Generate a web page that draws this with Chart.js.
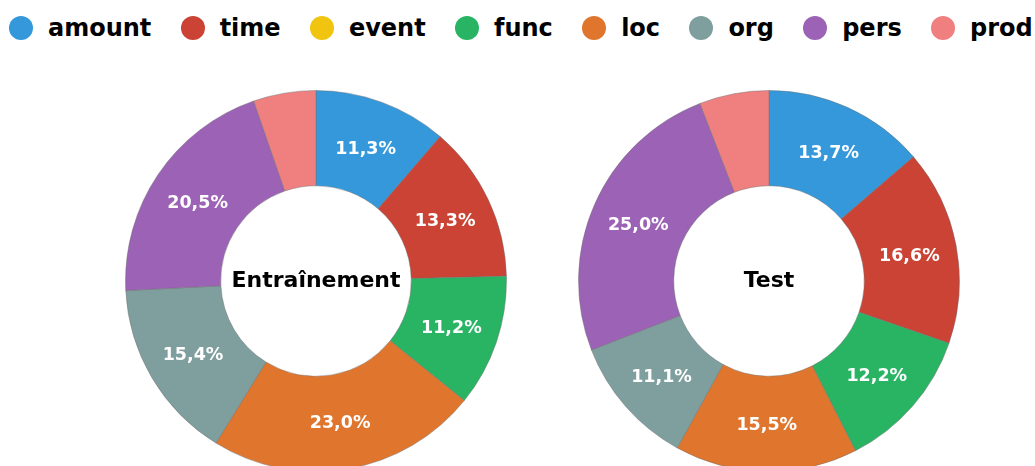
<!DOCTYPE html>
<html>
<head>
<meta charset="utf-8">
<script src="https://cdn.jsdelivr.net/npm/chart.js@4/dist/chart.umd.min.js"></script>
<style>
  html, body { margin: 0; padding: 0; background: #fff; }
  #wrap { position: relative; width: 1035px; height: 466px; overflow: hidden; }
  #legend { position: absolute; left: 9px; top: 16px; display: flex; white-space: nowrap;
            font-family: "DejaVu Sans", sans-serif; font-weight: bold; font-size: 24px; line-height: 24px; color: #000; }
  .item { display: flex; align-items: center; margin-right: 29.3px; }
  .dot { display: inline-block; width: 24px; height: 24px; border-radius: 50%; margin-right: 15px; }
  canvas { position: absolute; }
</style>
</head>
<body>
<div id="wrap">
  <div id="legend"></div>
  <canvas id="c1" width="382" height="382" style="left:125px; top:90px;"></canvas>
  <canvas id="c2" width="382" height="382" style="left:578px; top:90px;"></canvas>
</div>
<script>
const categories = ["amount", "time", "event", "func", "loc", "org", "pers", "prod"];
const colors = ["#3498db", "#cb4335", "#f1c40f", "#28b463", "#e0762e", "#7f9f9f", "#9b62b5", "#f08080"];
const trainValues = [11.3, 13.3, 0, 11.2, 23.0, 15.4, 20.5, 5.3];
const testValues = [13.7, 16.6, 0, 12.2, 15.5, 11.1, 25.0, 5.9];
const chartTitles = ["Entraînement", "Test"];

// HTML legend
const legend = document.getElementById('legend');
categories.forEach((c, i) => {
  const it = document.createElement('div');
  it.className = 'item';
  const d = document.createElement('span');
  d.className = 'dot';
  d.style.background = colors[i];
  const t = document.createElement('span');
  t.textContent = c;
  it.appendChild(d); it.appendChild(t);
  legend.appendChild(it);
});

const labelPlugin = {
  id: 'sliceLabels',
  afterDatasetsDraw(chart) {
    const ctx = chart.ctx;
    const meta = chart.getDatasetMeta(0);
    const data = chart.data.datasets[0].data;
    ctx.save();
    ctx.font = 'bold 17.5px "DejaVu Sans"';
    ctx.fillStyle = '#fff';
    ctx.textAlign = 'center';
    ctx.textBaseline = 'middle';
    meta.data.forEach((arc, i) => {
      const v = data[i];
      if (v < 8) return;
      const p = arc.getCenterPoint();
      ctx.fillText(v.toFixed(1).replace('.', ',') + '%', p.x, p.y + 2);
    });
    // center title
    const a = chart.chartArea;
    ctx.fillStyle = '#000';
    ctx.font = 'bold 22px "DejaVu Sans"';
    ctx.fillText(chart.options.plugins.centerTitle, (a.left + a.right) / 2, (a.top + a.bottom) / 2);
    ctx.restore();
  }
};

function makeChart(id, values, title) {
  return new Chart(document.getElementById(id), {
    type: 'doughnut',
    data: {
      labels: categories,
      datasets: [{
        data: values,
        backgroundColor: colors,
        borderColor: 'rgba(110,110,110,0.45)',
        borderWidth: 1,
        hoverOffset: 0
      }]
    },
    options: {
      responsive: false,
      animation: false,
      cutout: '50%',
      layout: { padding: 0 },
      plugins: {
        legend: { display: false },
        tooltip: { enabled: false },
        centerTitle: title
      }
    },
    plugins: [labelPlugin]
  });
}

makeChart('c1', trainValues, chartTitles[0]);
makeChart('c2', testValues, chartTitles[1]);
</script>
</body>
</html>
